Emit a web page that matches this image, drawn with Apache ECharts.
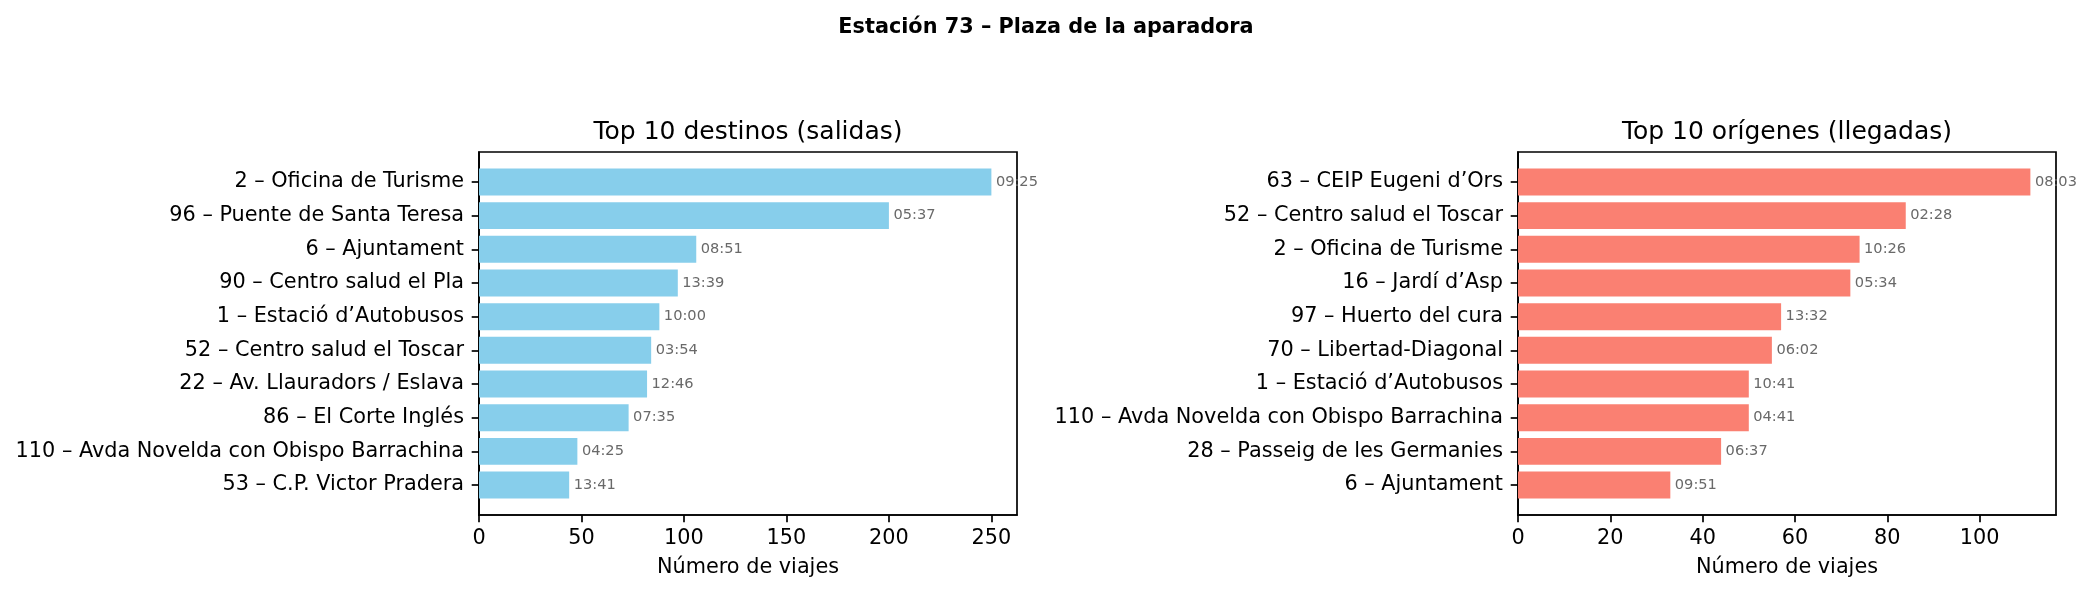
<!DOCTYPE html>
<html>
<head>
<meta charset="utf-8">
<script src="https://cdn.jsdelivr.net/npm/echarts@6/dist/echarts.min.js"></script>
<style>
html,body{margin:0;padding:0;background:#fff;}
#chart{width:2092px;height:594px;}
</style>
</head>
<body>
<div id="chart"></div>
<script>
const suptitle = 'Estación 73 – Plaza de la aparadora';
const leftTitle = 'Top 10 destinos (salidas)';
const rightTitle = 'Top 10 orígenes (llegadas)';
const xName = 'Número de viajes';

const leftNames = ['2 – Oficina de Turisme','96 – Puente de Santa Teresa','6 – Ajuntament','90 – Centro salud el Pla','1 – Estació d’Autobusos','52 – Centro salud el Toscar','22 – Av. Llauradors / Eslava','86 – El Corte Inglés','110 – Avda Novelda con Obispo Barrachina','53 – C.P. Victor Pradera'];
const leftValues = [250, 200, 106, 97, 88, 84, 82, 73, 48, 44];
const leftTimes = ['09:25','05:37','08:51','13:39','10:00','03:54','12:46','07:35','04:25','13:41'];
const leftTicks = [0, 50, 100, 150, 200, 250];

const rightNames = ['63 – CEIP Eugeni d’Ors','52 – Centro salud el Toscar','2 – Oficina de Turisme','16 – Jardí d’Asp','97 – Huerto del cura','70 – Libertad-Diagonal','1 – Estació d’Autobusos','110 – Avda Novelda con Obispo Barrachina','28 – Passeig de les Germanies','6 – Ajuntament'];
const rightValues = [111, 84, 74, 72, 57, 55, 50, 50, 44, 33];
const rightTimes = ['08:03','02:28','10:26','05:34','13:32','06:02','10:41','04:41','06:37','09:51'];
const rightTicks = [0, 20, 40, 60, 80, 100];

const FONT = '"DejaVu Sans", sans-serif';
const TICK_FS = 20.8;

function makeRender(color, times) {
  return function (params, api) {
    const v = api.value(0), i = api.value(1);
    const start = api.coord([0, i]);
    const end = api.coord([v, i]);
    const h = api.size([0, 0.8])[1];
    return {
      type: 'group',
      children: [
        {type: 'rect', shape: {x: start[0], y: end[1] - h / 2, width: end[0] - start[0], height: h}, style: {fill: color}},
        {type: 'text', x: end[0] + 4.5, y: end[1], z2: 10,
         style: {text: times[params.dataIndex], fill: '#696969', fontSize: 14.6, fontFamily: FONT, align: 'left', verticalAlign: 'middle'}}
      ]
    };
  };
}

function xAxisFor(gridIndex, values, ticks) {
  return {
    type: 'value', gridIndex: gridIndex, min: 0, max: Math.max(...values) * 1.05,
    interval: ticks[1] - ticks[0],
    name: xName, nameLocation: 'middle', nameGap: 42,
    nameTextStyle: {fontSize: TICK_FS, fontFamily: FONT, color: '#000', lineHeight: TICK_FS},
    axisLine: {show: true, onZero: false, lineStyle: {color: '#000', width: 1.7}},
    axisTick: {show: true, length: 7.3, lineStyle: {color: '#000', width: 1.7}, customValues: ticks},
    axisLabel: {show: true, margin: 13, fontSize: TICK_FS, fontFamily: FONT, color: '#000', customValues: ticks, lineHeight: TICK_FS},
    splitLine: {show: false}
  };
}

function yAxisFor(gridIndex, names) {
  const idx = names.map((_, i) => i);
  return {
    type: 'value', gridIndex: gridIndex, inverse: true, min: -0.89, max: 9.89,
    axisLine: {show: true, onZero: false, lineStyle: {color: '#000', width: 1.7}},
    axisTick: {show: true, length: 7.3, lineStyle: {color: '#000', width: 1.7}, customValues: idx},
    axisLabel: {show: true, margin: 15, fontSize: TICK_FS, fontFamily: FONT, color: '#000', customValues: idx,
      formatter: function (val) { return names[Math.round(val)]; }},
    splitLine: {show: false}
  };
}

const chart = echarts.init(document.getElementById('chart'), null, {renderer: 'canvas'});
chart.setOption({
  animation: false,
  backgroundColor: '#ffffff',
  title: [
    {text: suptitle, left: 1046, top: 17, textAlign: 'center', padding: 0,
     textStyle: {fontSize: 20.8, fontWeight: 'bold', fontFamily: FONT, color: '#000', lineHeight: 20.8}},
    {text: leftTitle, left: 748, top: 120, textAlign: 'center', padding: 0,
     textStyle: {fontSize: 25, fontWeight: 'normal', fontFamily: FONT, color: '#000', lineHeight: 25}},
    {text: rightTitle, left: 1787, top: 120, textAlign: 'center', padding: 0,
     textStyle: {fontSize: 25, fontWeight: 'normal', fontFamily: FONT, color: '#000', lineHeight: 25}}
  ],
  grid: [
    {left: 479, right: 1075, top: 152, bottom: 79, show: true, borderColor: '#000', borderWidth: 1.7, backgroundColor: 'transparent'},
    {left: 1518, right: 36, top: 152, bottom: 79, show: true, borderColor: '#000', borderWidth: 1.7, backgroundColor: 'transparent'}
  ],
  xAxis: [xAxisFor(0, leftValues, leftTicks), xAxisFor(1, rightValues, rightTicks)],
  yAxis: [yAxisFor(0, leftNames), yAxisFor(1, rightNames)],
  series: [
    {type: 'custom', xAxisIndex: 0, yAxisIndex: 0, clip: false,
     data: leftValues.map((v, i) => [v, i]), encode: {x: 0, y: 1},
     renderItem: makeRender('#87CEEB', leftTimes)},
    {type: 'custom', xAxisIndex: 1, yAxisIndex: 1, clip: false,
     data: rightValues.map((v, i) => [v, i]), encode: {x: 0, y: 1},
     renderItem: makeRender('#FA8072', rightTimes)}
  ]
});
</script>
</body>
</html>
